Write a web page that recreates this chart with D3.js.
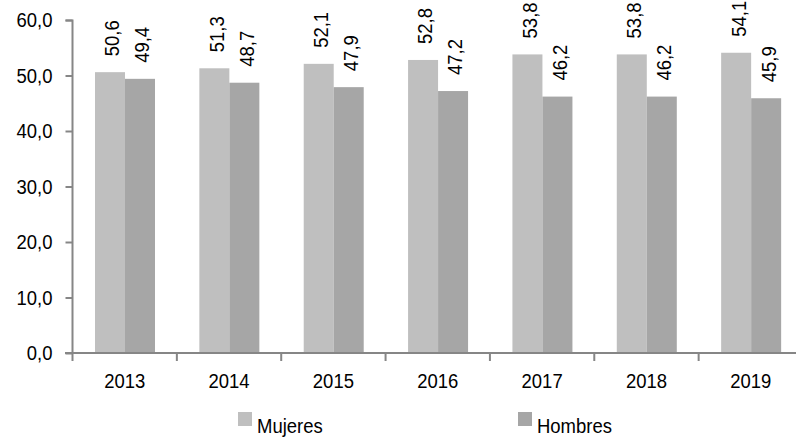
<!DOCTYPE html>
<html><head><meta charset="utf-8">
<script src="https://cdn.jsdelivr.net/npm/d3@7"></script>
<style>body{margin:0;background:#fff}svg{display:block;font-family:"Liberation Sans",Arial,sans-serif}</style>
</head><body><svg id="c" width="796" height="439"></svg>
<script>
const years = ["2013","2014","2015","2016","2017","2018","2019"];
const mujeres = [50.6,51.3,52.1,52.8,53.8,53.8,54.1];
const hombres = [49.4,48.7,47.9,47.2,46.2,46.2,45.9];
const seriesNames = ["Mujeres","Hombres"];
const colors = ["#bfbfbf","#a6a6a6"];
const yTicks = [0,10,20,30,40,50,60];

const SX = 0.88; // horizontal condensing of the text
const FS = 21;
const svg = d3.select("#c");
const x = d3.scaleBand().domain(years).range([72.5, 803]).padding(0);
const x1 = d3.scaleBand().domain(seriesNames).range([22.5, 82.5]).padding(0);
const y = d3.scaleLinear().domain([0,60]).range([353,20]);
const fmt = v => d3.format(".1f")(v).replace(".", ",");
const seriesVals = [mujeres, hombres];

// bars
seriesNames.forEach((s,si)=>{
  svg.append("g").selectAll("rect").data(years).join("rect")
    .attr("x", d=>x(d)+x1(s))
    .attr("y", (d,i)=>y(seriesVals[si][i]))
    .attr("width", x1.bandwidth())
    .attr("height", (d,i)=>y(0)-y(seriesVals[si][i]))
    .attr("fill", colors[si]);
  svg.append("g").selectAll("text").data(years).join("text")
    .attr("transform", (d,i)=>`translate(${x(d)+x1(s)+x1.bandwidth()/2+2},${y(seriesVals[si][i])-16}) rotate(-90) scale(${SX},1)`)
    .attr("dy","0.35em")
    .attr("text-anchor","start")
    .attr("font-size", FS)
    .attr("fill","#000")
    .text((d,i)=>fmt(seriesVals[si][i]));
});

// y axis
const yAxis = d3.axisLeft(y).tickValues(yTicks).tickFormat(fmt).tickSize(7).tickPadding(13);
const gy = svg.append("g").attr("transform","translate(72.5,0)").call(yAxis);
gy.select(".domain").attr("stroke","#868686").attr("stroke-width",2).attr("d","M-7,20.5H0V353");
gy.selectAll(".tick line").attr("stroke","#868686").attr("stroke-width",2);
gy.selectAll(".tick text").attr("font-size",FS).attr("fill","#000")
  .attr("x", -20/SX).attr("transform",`scale(${SX},1)`);

// x axis
const xAxis = d3.axisBottom(x).tickSize(0).tickPadding(20);
const gx = svg.append("g").attr("transform","translate(0,353)").call(xAxis);
gx.select(".domain").attr("stroke","#868686").attr("stroke-width",2).attr("d","M65,0H803");
gx.selectAll(".tick text").attr("font-size",FS).attr("fill","#000").attr("transform",`scale(${SX},1)`);
svg.append("g").selectAll("line").data(years).join("line")
  .attr("x1", d=>x(d)).attr("x2", d=>x(d))
  .attr("y1",353).attr("y2",361)
  .attr("stroke","#868686").attr("stroke-width",2);

// legend
const legX = [238, 518];
seriesNames.forEach((s,i)=>{
  svg.append("rect").attr("x",legX[i]).attr("y",412).attr("width",14).attr("height",14).attr("fill",colors[i]);
  svg.append("text").attr("transform",`translate(${legX[i]+19},433) scale(${SX},1)`)
    .attr("font-size",FS).attr("fill","#000").text(s);
});
</script></body></html>
